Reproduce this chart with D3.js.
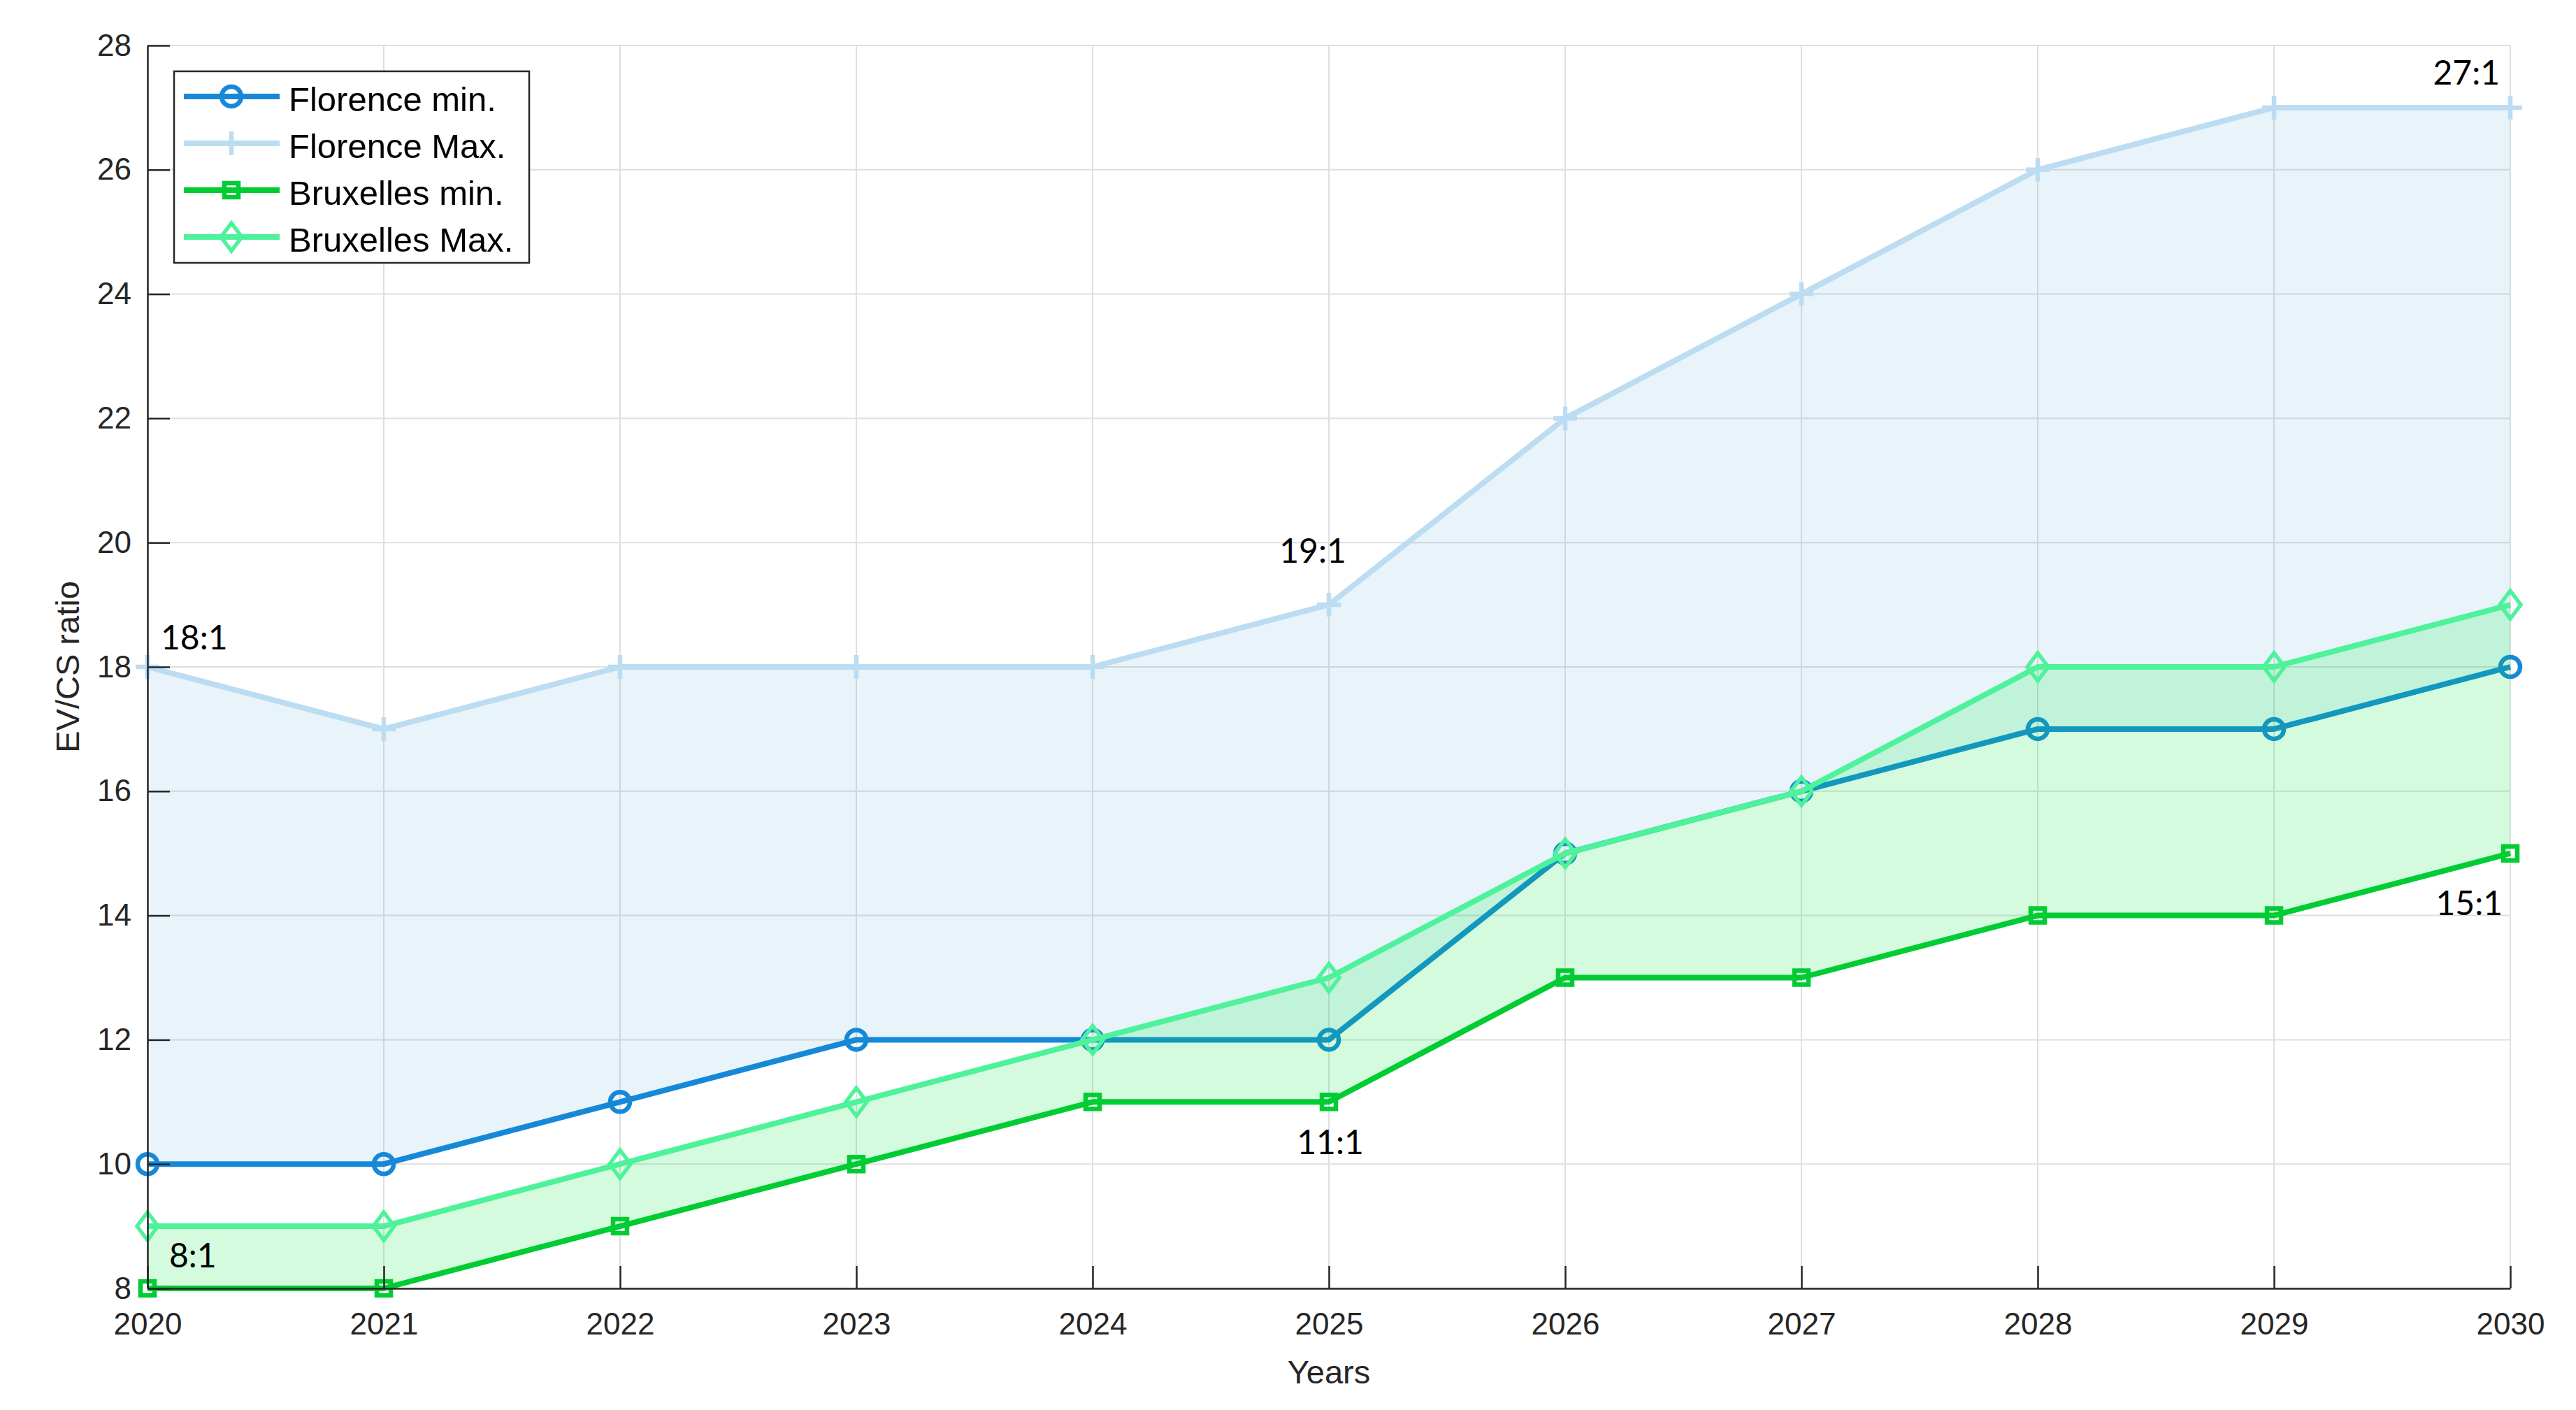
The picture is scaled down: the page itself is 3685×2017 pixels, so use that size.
<!DOCTYPE html>
<html><head><meta charset="utf-8">
<script src="https://cdn.jsdelivr.net/npm/d3@7"></script>
<style>body{margin:0;background:#fff}svg{display:block}</style>
</head><body><svg id="chart"></svg>
<script>
// ---------- data ----------
const years = [2020, 2021, 2022, 2023, 2024, 2025, 2026, 2027, 2028, 2029, 2030];
const florenceMin = [10, 10, 11, 12, 12, 12, 15, 16, 17, 17, 18];
const florenceMax = [18, 17, 18, 18, 18, 19, 22, 24, 26, 27, 27];
const bruxellesMin = [8, 8, 9, 10, 11, 11, 13, 13, 14, 14, 15];
const bruxellesMax = [9, 9, 10, 11, 12, 13, 15, 16, 18, 18, 19];
const yTickValues = [8, 10, 12, 14, 16, 18, 20, 22, 24, 26, 28];
const xTickValues = [2020, 2021, 2022, 2023, 2024, 2025, 2026, 2027, 2028, 2029, 2030];
const seriesNames = ["Florence min.", "Florence Max.", "Bruxelles min.", "Bruxelles Max."];
const annotationYears = [2020, 2025, 2030, 2025, 2020, 2030];
const annotationValues = [18, 19, 27, 11, 8, 15];
const annotationLabels = ["18:1", "19:1", "27:1", "11:1", "8:1", "15:1"];
const xLabel = "Years";
const yLabel = "EV/CS ratio";

// ---------- layout / style ----------
const W = 3685, H = 2017;
const L = 211, R = 3591, T = 65, B = 1843;
const axisColor = "#262626";
const gridColor = "#dfdfdf";
const tickFont = "'Liberation Sans', Arial, sans-serif";
const colors = ["#1688d8", "#bcdcf2", "#00cc33", "#4ef29a"];
const markers = ["circle", "plus", "square", "diamond"];
// annotation offsets [dx, dy, anchor]
const annOffsets = [[19, -25, "start"], [-23, -60, "middle"], [-15, -33, "end"], [2, 75, "middle"], [31, -30, "start"], [-11, 88, "end"]];

const svg = d3.select("#chart").attr("width", W).attr("height", H)
  .style("font-family", tickFont);
svg.append("rect").attr("width", W).attr("height", H).attr("fill", "#fff");

const x = d3.scaleLinear().domain([2020, 2030]).range([L, R]);
const y = d3.scaleLinear().domain([8, 28]).range([B, T]);

// grid
const grid = svg.append("g");
grid.selectAll(".gy").data(yTickValues).join("line")
  .attr("x1", L).attr("x2", R).attr("y1", d => y(d)).attr("y2", d => y(d))
  .attr("stroke", gridColor).attr("stroke-width", 2);
grid.selectAll(".gx").data(xTickValues).join("line")
  .attr("y1", T).attr("y2", B).attr("x1", d => x(d)).attr("x2", d => x(d))
  .attr("stroke", gridColor).attr("stroke-width", 2);

const series = [florenceMin, florenceMax, bruxellesMin, bruxellesMax];
const pts = s => years.map((yr, i) => [yr, s[i]]);

const area = (lo, hi) => d3.area()
  .x((d, i) => x(years[i])).y0((d, i) => y(lo[i])).y1((d, i) => y(hi[i]))(years);

function markerPath(type, cx, cy) {
  const p = d3.path();
  if (type === "circle") { p.moveTo(cx + 14, cy); p.arc(cx, cy, 14, 0, 2 * Math.PI); }
  else if (type === "square") { p.rect(cx - 10, cy - 10, 20, 20); }
  else if (type === "diamond") { p.moveTo(cx, cy - 20); p.lineTo(cx + 15, cy); p.lineTo(cx, cy + 20); p.lineTo(cx - 15, cy); p.closePath(); }
  else if (type === "plus") { p.moveTo(cx - 17, cy); p.lineTo(cx + 17, cy); p.moveTo(cx, cy - 17); p.lineTo(cx, cy + 17); }
  return p.toString();
}
const line = d3.line().x(d => x(d[0])).y(d => y(d[1]));

function drawSeries(k) {
  const g = svg.append("g");
  g.append("path").attr("d", line(pts(series[k]))).attr("fill", "none")
    .attr("stroke", colors[k]).attr("stroke-width", 8).attr("stroke-linejoin", "round");
  g.selectAll("path.m").data(pts(series[k])).join("path").attr("class", "m")
    .attr("d", d => markerPath(markers[k], x(d[0]), y(d[1])))
    .attr("fill", "none").attr("stroke", colors[k])
    .attr("stroke-width", markers[k] === "diamond" ? 5.5 : 6.5);
}

// Florence band
svg.append("path").attr("d", area(florenceMin, florenceMax))
  .attr("fill", "rgb(30,144,210)").attr("fill-opacity", 0.1);
drawSeries(0); drawSeries(1);
// Bruxelles band (drawn over Florence lines)
svg.append("path").attr("d", area(bruxellesMin, bruxellesMax))
  .attr("fill", "rgb(0,230,60)").attr("fill-opacity", 0.17);
drawSeries(2); drawSeries(3);

// axes
const yAxis = d3.axisLeft(y).tickValues(yTickValues).tickSizeInner(-32).tickSizeOuter(0).tickPadding(23);
const xAxis = d3.axisBottom(x).tickValues(xTickValues).tickFormat(d3.format("d")).tickSizeInner(-32).tickSizeOuter(0).tickPadding(35);
const gy = svg.append("g").attr("transform", `translate(${L},0)`).call(yAxis);
const gx = svg.append("g").attr("transform", `translate(0,${B})`).call(xAxis);
[gx, gy].forEach(g => {
  g.select(".domain").attr("stroke", axisColor).attr("stroke-width", 2.5);
  g.selectAll(".tick line").attr("stroke", axisColor).attr("stroke-width", 2.5);
  g.selectAll(".tick text").attr("fill", axisColor).style("font-size", "44px").style("font-family", tickFont);
});

// axis labels
svg.append("text").attr("x", (L + R) / 2).attr("y", 1979).attr("text-anchor", "middle")
  .attr("fill", axisColor).style("font-size", "47px").text(xLabel);
svg.append("text").attr("transform", `translate(113,${(T + B) / 2}) rotate(-90)`).attr("text-anchor", "middle")
  .attr("fill", axisColor).style("font-size", "47px").text(yLabel);

// annotations
annotationLabels.forEach((lab, i) => {
  const o = annOffsets[i];
  svg.append("text").attr("x", x(annotationYears[i]) + o[0]).attr("y", y(annotationValues[i]) + o[1])
    .attr("text-anchor", o[2]).attr("fill", "#000")
    .style("font-family", "Lato, 'Open Sans', sans-serif").style("font-size", "48px").text(lab);
});

// legend
const lg = svg.append("g");
lg.append("rect").attr("x", 249).attr("y", 102).attr("width", 508).attr("height", 274)
  .attr("fill", "#fff").attr("stroke", axisColor).attr("stroke-width", 2.5);
seriesNames.forEach((name, k) => {
  const ry = 138 + k * 67;
  lg.append("line").attr("x1", 263).attr("x2", 400).attr("y1", ry).attr("y2", ry)
    .attr("stroke", colors[k]).attr("stroke-width", 8);
  lg.append("path").attr("d", markerPath(markers[k], 331, ry)).attr("fill", "none")
    .attr("stroke", colors[k]).attr("stroke-width", markers[k] === "diamond" ? 5.5 : 6.5);
  lg.append("text").attr("x", 413).attr("y", ry + 21).attr("fill", "#000")
    .style("font-size", "49px").text(name);
});
</script></body></html>
